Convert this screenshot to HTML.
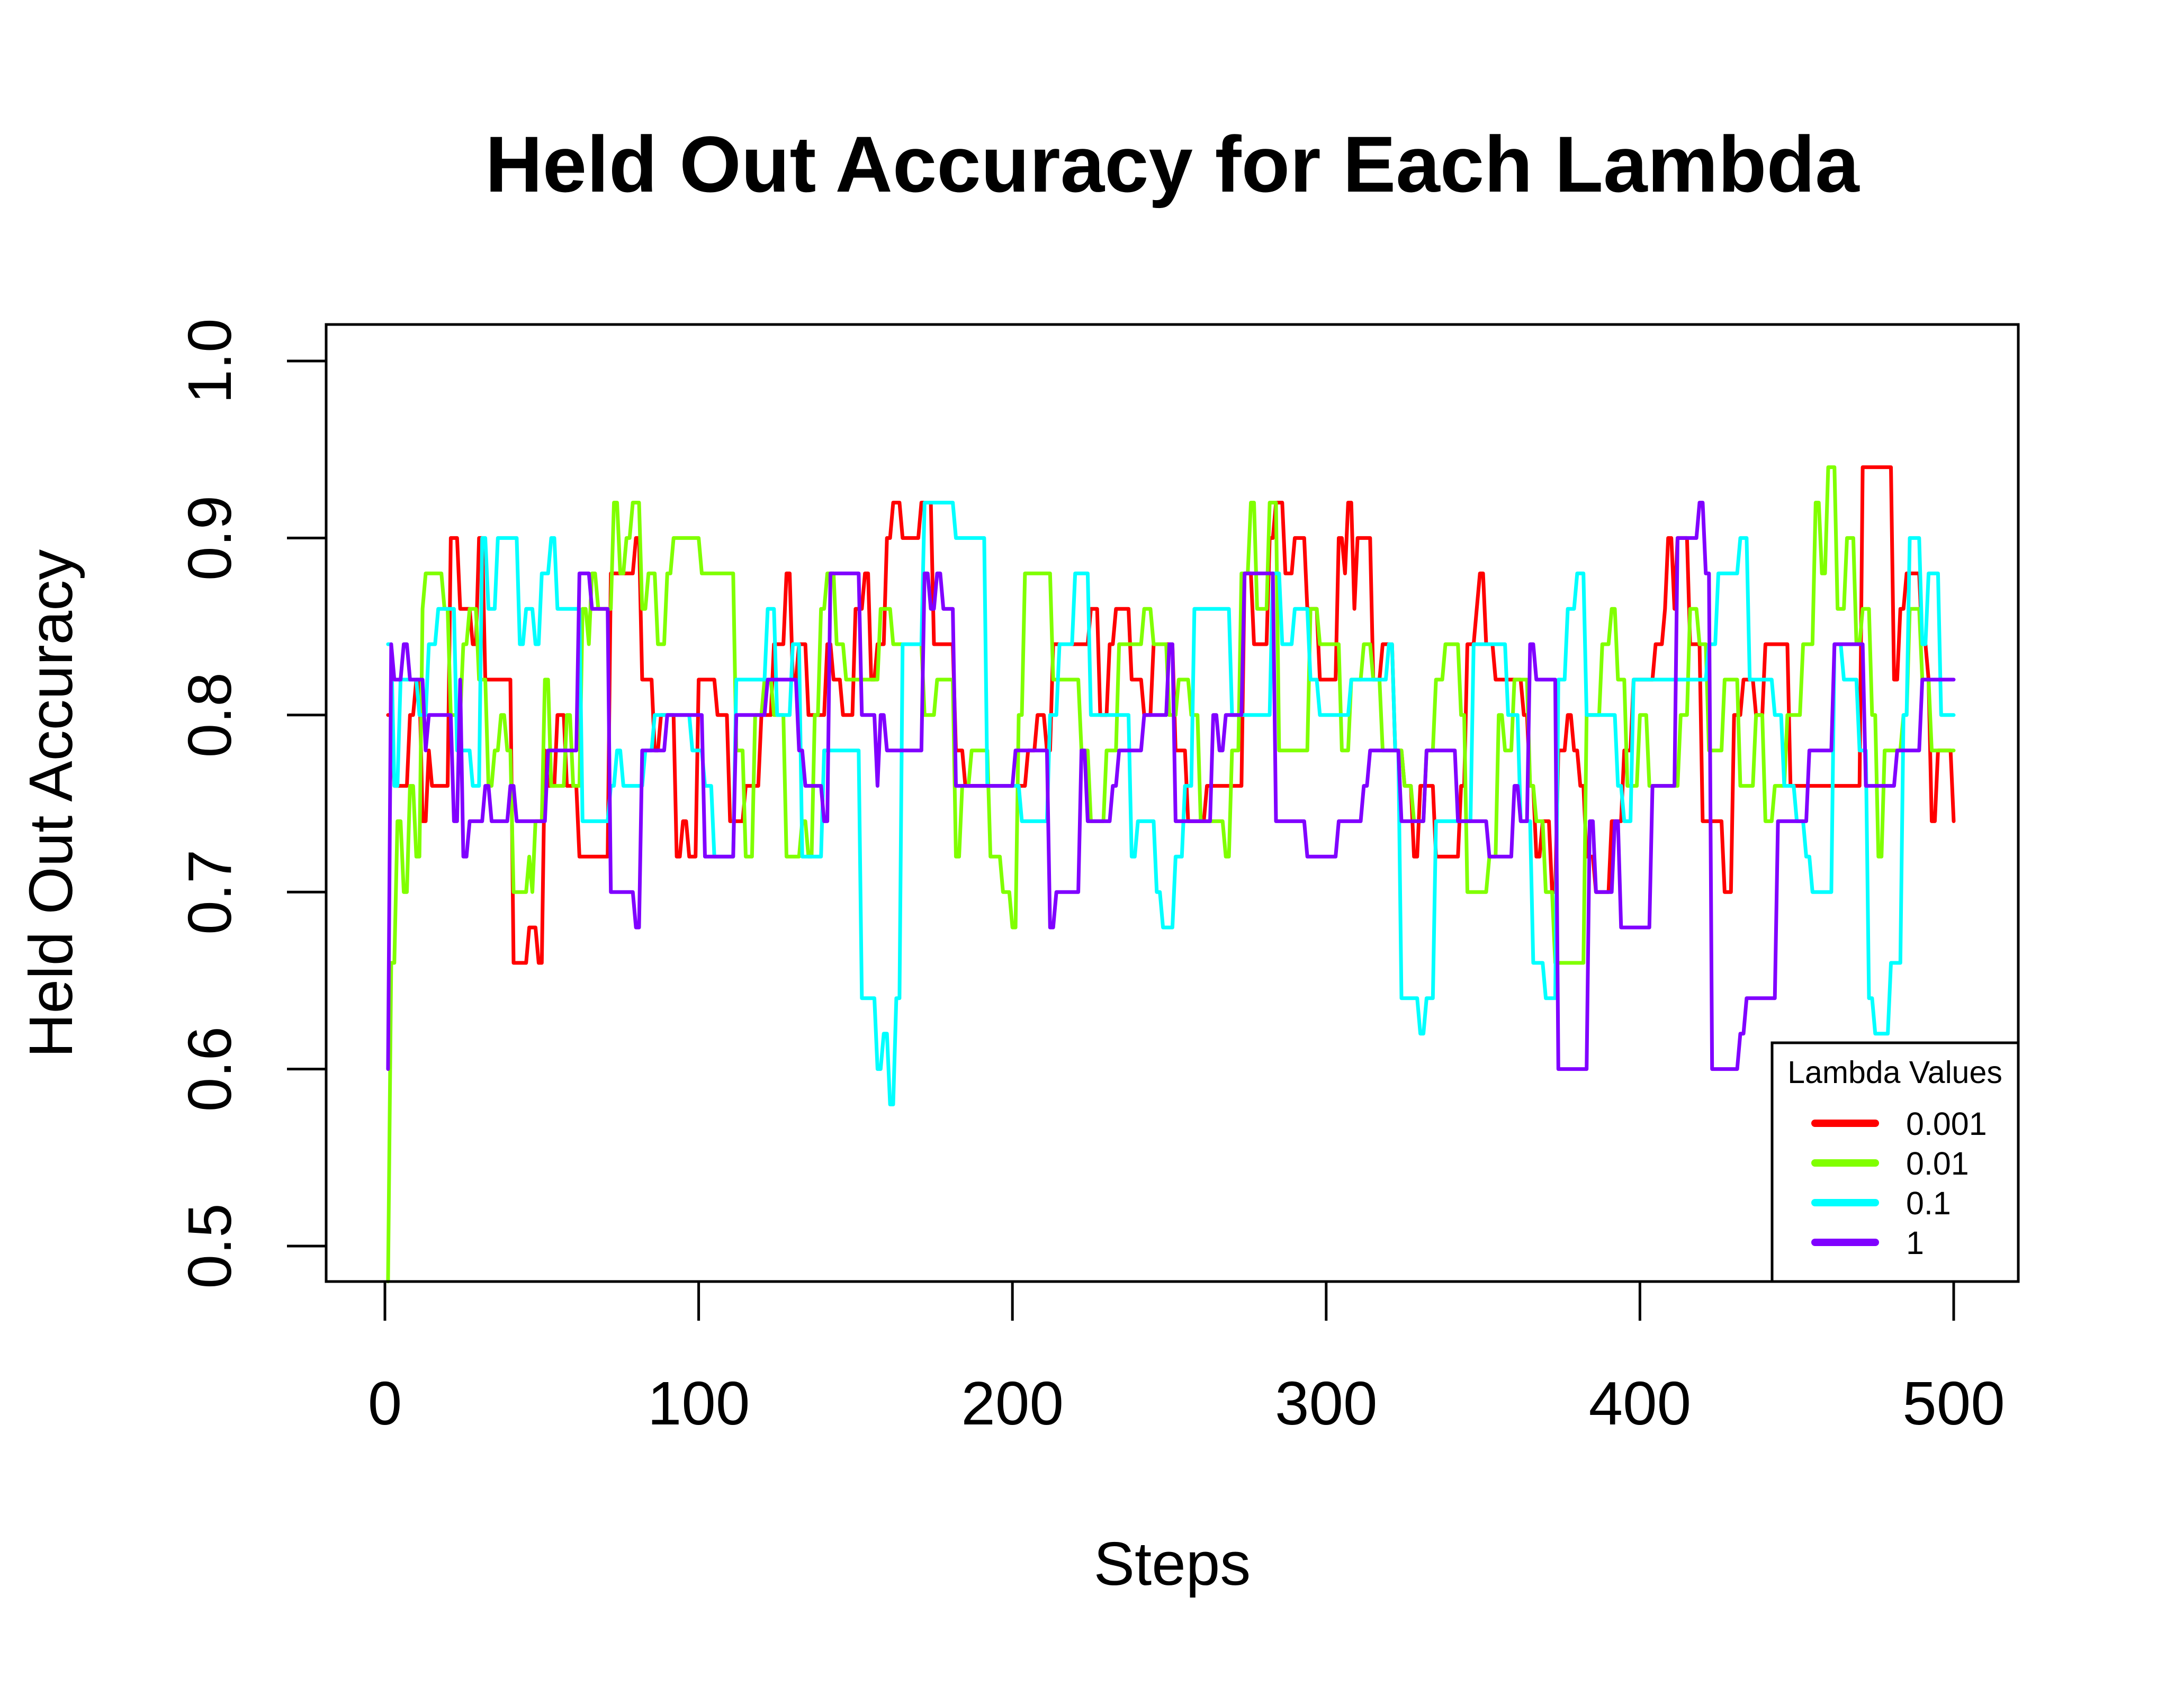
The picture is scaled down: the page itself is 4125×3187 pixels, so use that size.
<!DOCTYPE html>
<html><head><meta charset="utf-8">
<style>
html,body{margin:0;padding:0;background:#fff;}
svg{display:block;font-family:"Liberation Sans",sans-serif;}
</style></head>
<body>
<svg id="chart" width="4125" height="3187" viewBox="0 0 4125 3187" xmlns="http://www.w3.org/2000/svg">
<rect x="0" y="0" width="4125" height="3187" fill="#fff"/>
<text x="2214" y="362" font-size="150" font-weight="bold" text-anchor="middle">Held Out Accuracy for Each Lambda</text>
<text x="2214" y="2994" font-size="116" text-anchor="middle">Steps</text>
<text transform="translate(136,1518) rotate(-90)" font-size="116" text-anchor="middle">Held Out Accuracy</text>
<g id="xaxis"></g>
<g id="yaxis"></g>
<g id="series"></g>
<rect x="616" y="613" width="3196" height="1808" fill="none" stroke="#000" stroke-width="5"/>
<g id="legend"></g>
</svg>
<script>
const xTicks=[0,100,200,300,400,500];
const yTicks=[0.5,0.6,0.7,0.8,0.9,1.0];
const yTickLabels=["0.5","0.6","0.7","0.8","0.9","1.0"];
const seriesNames=["0.001","0.01","0.1","1"];
const seriesColors=["#FF0000","#80FF00","#00FFFF","#8000FF"];
// run-length data: change steps and values
const redSteps=[1,3,8,10,12,14,15,21,24,28,30,32,41,46,49,51,52,55,58,62,72,80,82,86,88,93,95,97,100,106,110,115,120,124,128,130,132,135,141,143,146,150,153,155,157,160,162,165,171,175,182,185,205,208,211,213,225,228,231,233,238,242,245,252,256,262,274,277,282,284,287,290,294,298,304,306,307,309,310,315,318,322,325,328,330,335,343,345,348,349,351,354,363,365,367,369,372,374,377,379,381,383,386,391,395,398,405,408,409,411,412,416,420,427,430,433,437,440,448,471,481,483,485,490,492,493,495,500];
const redVals=[0.80,0.76,0.80,0.82,0.74,0.78,0.76,0.90,0.86,0.84,0.90,0.82,0.66,0.68,0.66,0.78,0.76,0.80,0.76,0.72,0.88,0.90,0.82,0.78,0.80,0.72,0.74,0.72,0.82,0.80,0.74,0.76,0.80,0.84,0.88,0.82,0.84,0.80,0.84,0.82,0.80,0.86,0.88,0.82,0.84,0.90,0.92,0.90,0.92,0.84,0.78,0.76,0.78,0.80,0.78,0.84,0.86,0.80,0.84,0.86,0.82,0.80,0.84,0.78,0.74,0.76,0.88,0.84,0.90,0.92,0.88,0.90,0.86,0.82,0.90,0.88,0.92,0.86,0.90,0.82,0.84,0.78,0.76,0.72,0.76,0.72,0.76,0.84,0.86,0.88,0.84,0.82,0.80,0.76,0.72,0.74,0.70,0.78,0.80,0.78,0.76,0.72,0.70,0.74,0.78,0.82,0.84,0.86,0.90,0.86,0.90,0.84,0.74,0.70,0.80,0.82,0.80,0.84,0.76,0.94,0.82,0.86,0.88,0.84,0.82,0.74,0.78,0.74];
const greenSteps=[1,2,4,6,8,10,12,13,19,21,25,27,30,33,35,37,39,41,46,47,48,51,53,58,60,63,65,66,68,73,75,77,79,82,84,87,90,92,101,112,115,118,121,124,128,133,135,137,139,141,144,147,158,162,172,176,182,184,187,193,197,200,202,204,213,222,225,230,234,242,245,250,253,257,260,268,270,273,276,278,282,285,295,298,305,308,312,315,318,325,328,332,335,338,343,345,352,355,357,360,365,367,370,373,383,388,391,393,396,400,403,413,416,419,422,427,432,437,440,443,447,452,456,458,460,463,466,469,471,474,476,478,484,486,490,493];
const greenVals=[0.48,0.66,0.74,0.70,0.76,0.72,0.86,0.88,0.86,0.80,0.84,0.86,0.82,0.76,0.78,0.80,0.78,0.70,0.72,0.70,0.74,0.82,0.76,0.80,0.76,0.86,0.84,0.88,0.86,0.92,0.88,0.90,0.92,0.86,0.88,0.84,0.88,0.90,0.88,0.78,0.72,0.80,0.82,0.80,0.72,0.74,0.72,0.80,0.86,0.88,0.84,0.82,0.86,0.84,0.80,0.82,0.72,0.76,0.78,0.72,0.70,0.68,0.80,0.88,0.82,0.78,0.74,0.78,0.84,0.86,0.84,0.80,0.82,0.80,0.74,0.72,0.78,0.88,0.92,0.86,0.92,0.78,0.86,0.84,0.78,0.82,0.84,0.82,0.78,0.76,0.74,0.78,0.82,0.84,0.80,0.70,0.72,0.80,0.78,0.82,0.76,0.74,0.70,0.66,0.80,0.84,0.86,0.82,0.76,0.80,0.76,0.80,0.86,0.84,0.78,0.82,0.76,0.80,0.74,0.76,0.80,0.84,0.92,0.88,0.94,0.86,0.90,0.84,0.86,0.80,0.72,0.78,0.80,0.86,0.82,0.78];
const cyanSteps=[1,3,5,11,14,17,23,28,31,33,36,43,45,48,50,53,55,63,72,74,76,83,86,98,102,105,112,122,125,130,133,140,152,157,159,161,163,165,172,182,192,203,212,215,220,225,238,240,246,248,252,255,258,270,283,286,290,295,298,308,320,322,324,330,332,335,347,358,362,366,370,374,377,380,383,393,395,398,422,425,432,435,443,446,450,453,455,462,465,470,473,475,480,484,486,490,492,496];
const cyanVals=[0.84,0.76,0.82,0.80,0.84,0.86,0.78,0.76,0.90,0.86,0.90,0.84,0.86,0.84,0.88,0.90,0.86,0.74,0.76,0.78,0.76,0.78,0.80,0.78,0.76,0.72,0.82,0.86,0.80,0.84,0.72,0.78,0.64,0.60,0.62,0.58,0.64,0.84,0.92,0.90,0.76,0.74,0.80,0.84,0.88,0.80,0.72,0.74,0.70,0.68,0.72,0.76,0.86,0.80,0.88,0.84,0.86,0.82,0.80,0.82,0.84,0.78,0.64,0.62,0.64,0.74,0.84,0.80,0.74,0.66,0.64,0.82,0.86,0.88,0.80,0.76,0.74,0.82,0.84,0.88,0.90,0.82,0.80,0.76,0.74,0.72,0.70,0.84,0.82,0.78,0.64,0.62,0.66,0.80,0.90,0.84,0.88,0.80];
const purpleSteps=[1,2,3,6,8,13,14,22,24,25,27,32,34,40,42,52,62,66,72,80,82,90,102,112,122,132,134,140,142,152,157,158,160,172,174,176,178,182,201,212,214,222,224,232,234,242,250,252,264,266,268,274,284,294,304,312,314,324,332,342,352,360,362,365,367,374,384,386,392,394,404,412,419,421,423,432,434,444,454,462,472,482,490];
const purpleVals=[0.60,0.84,0.82,0.84,0.82,0.78,0.80,0.74,0.82,0.72,0.74,0.76,0.74,0.76,0.74,0.78,0.88,0.86,0.70,0.68,0.78,0.80,0.72,0.80,0.82,0.78,0.76,0.74,0.88,0.80,0.76,0.80,0.78,0.88,0.86,0.88,0.86,0.76,0.78,0.68,0.70,0.78,0.74,0.76,0.78,0.80,0.84,0.74,0.80,0.78,0.80,0.88,0.74,0.72,0.74,0.76,0.78,0.74,0.78,0.74,0.72,0.76,0.74,0.84,0.82,0.60,0.74,0.70,0.74,0.68,0.76,0.90,0.92,0.88,0.60,0.62,0.64,0.74,0.78,0.84,0.76,0.78,0.82];
const allSteps=[redSteps,greenSteps,cyanSteps,purpleSteps];
const allVals=[redVals,greenVals,cyanVals,purpleVals];

const NS="http://www.w3.org/2000/svg";
const X0=727,X1=3690,Y0=2354,Y1=682;
function xs(v){return X0+(v-0)/(500-0)*(X1-X0);}
function ys(v){return Y0+(v-0.5)/(1.0-0.5)*(Y1-Y0);}
function mk(tag,attrs,parent){const e=document.createElementNS(NS,tag);for(const k in attrs)e.setAttribute(k,attrs[k]);parent.appendChild(e);return e;}

const xg=document.getElementById('xaxis');
xTicks.forEach(t=>{
  const l=mk('line',{x1:xs(t),x2:xs(t),y1:2421,y2:2495,stroke:'#000','stroke-width':5},xg);
  
  
  const tx=mk('text',{x:xs(t),y:2691,'font-size':116,'text-anchor':'middle'},xg);
  tx.textContent=String(t);
  
  
});
const yg=document.getElementById('yaxis');
yTicks.forEach((t,i)=>{
  const l=mk('line',{x1:542,x2:616,y1:ys(t),y2:ys(t),stroke:'#000','stroke-width':5},yg);
  
  
  const tx=mk('text',{transform:`translate(436,${ys(t)}) rotate(-90)`,'font-size':116,'text-anchor':'middle'},yg);
  tx.textContent=yTickLabels[i];
  
  
});

const sg=document.getElementById('series');
allSteps.forEach((steps,si)=>{
  const vals=allVals[si];
  const pts=[];
  let k=0;
  for(let s=1;s<=500;s++){
    while(k+1<steps.length&&steps[k+1]<=s)k++;
    pts.push(xs(s).toFixed(1)+','+ys(vals[k]).toFixed(1));
  }
  const p=mk('polyline',{points:pts.join(' '),fill:'none',stroke:seriesColors[si],'stroke-width':7,'stroke-linejoin':'round','stroke-linecap':'round'},sg);
  
  
});

const lg=document.getElementById('legend');
const lb=mk('rect',{x:3347,y:1970,width:465,height:451,fill:'#fff',stroke:'#000','stroke-width':5},lg);


const lt=mk('text',{x:3579,y:2046,'font-size':59,'text-anchor':'middle'},lg);
lt.textContent='Lambda Values';


seriesNames.forEach((n,i)=>{
  const y=2122+i*75;
  const l=mk('line',{x1:3428,x2:3542,y1:y,y2:y,stroke:seriesColors[i],'stroke-width':14,'stroke-linecap':'round'},lg);
  
  
  const t=mk('text',{x:3600,y:y+22,'font-size':61},lg);
  t.textContent=n;
  
  
});
</script>
</body></html>
